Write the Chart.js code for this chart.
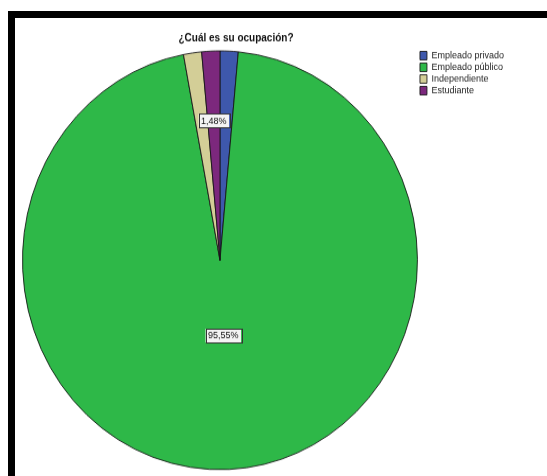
<!DOCTYPE html>
<html>
<head>
<meta charset="utf-8">
<script src="https://cdn.jsdelivr.net/npm/chart.js@4.4.1/dist/chart.umd.min.js"></script>
<style>
  body { margin: 0; background: #fff; }
  #wrap { position: relative; width: 547px; height: 476px; overflow: hidden; }
  #myChart { position: absolute; left: 0; top: 0; }
  #frame { position: absolute; left: 8px; top: 11px; right: -10px; bottom: -10px;
           border-left: 7px solid #000; border-top: 7px solid #000; }
</style>
</head>
<body>
<div id="wrap">
  <!-- drawn at 547x449 and shown a bit taller, like the squashed original -->
  <canvas id="myChart" width="547" height="449" style="width:547px;height:476px"></canvas>
  <div id="frame"></div>
</div>
<script>
const title_text = '¿Cuál es su ocupación?';
const categories = ['Empleado privado', 'Empleado público', 'Independiente', 'Estudiante'];
const percentages = [1.48, 95.55, 1.48, 1.48];
const slice_colors = ['#3e58ac', '#2eb848', '#d3ce97', '#7c287d'];

// SPSS style value boxes, only some slices get one
const valueBoxes = {
    id: 'valueBoxes',
    afterDatasetsDraw(chart, args, opts) {
        const ctx = chart.ctx;
        const arcs = chart.getDatasetMeta(0).data;
        ctx.save();
        ctx.font = '9px Arial, "Liberation Sans", sans-serif';
        ctx.textAlign = 'center';
        ctx.textBaseline = 'middle';
        opts.items.forEach(function (item) {
            const arc = arcs[item.index];
            const p = arc.getProps(['x', 'y', 'startAngle', 'endAngle', 'outerRadius'], true);
            const mid = (p.startAngle + p.endAngle) / 2;
            const cx = p.x + Math.cos(mid) * p.outerRadius * item.r;
            const cy = p.y + Math.sin(mid) * p.outerRadius * item.r;
            const txt = percentages[item.index].toFixed(2).replace('.', ',') + '%';
            const w = ctx.measureText(txt).width + 5;
            const h = 13;
            ctx.fillStyle = '#f4f4f4';
            ctx.strokeStyle = '#333';
            ctx.lineWidth = 1;
            ctx.fillRect(cx - w / 2, cy - h / 2, w, h);
            ctx.strokeRect(Math.round(cx - w / 2) + 0.5, Math.round(cy - h / 2) + 0.5, Math.round(w), h);
            ctx.fillStyle = '#111';
            ctx.fillText(txt, cx, cy + 0.5);
        });
        ctx.restore();
    }
};

// move the title so it sits where SPSS put it
const titleSpot = {
    id: 'titleSpot',
    afterLayout(chart, args, opts) {
        chart.titleBlock.left = opts.left;
        chart.titleBlock.right = opts.right;
    }
};

const config = {
    type: 'pie',
    data: {
        labels: categories,
        datasets: [{
            data: percentages,
            backgroundColor: slice_colors,
            borderColor: 'rgba(20,20,20,0.85)',
            borderWidth: 1
        }]
    },
    options: {
        responsive: false,
        animation: false,
        layout: { padding: { left: 22, right: 33, top: 20, bottom: 4 } },
        plugins: {
            title: {
                display: true,
                text: title_text,
                color: '#111',
                font: { family: 'Arial, "Liberation Sans", sans-serif', size: 10, weight: 'bold' },
                padding: { top: 10, bottom: 4 }
            },
            legend: {
                position: 'right',
                align: 'start',
                fullSize: false,
                labels: {
                    boxWidth: 7,
                    boxHeight: 8,
                    padding: 2,
                    color: '#222',
                    font: { family: 'Arial, "Liberation Sans", sans-serif', size: 9 }
                }
            },
            tooltip: { enabled: false },
            valueBoxes: { items: [{ index: 1, r: 0.36 }, { index: 3, r: 0.667 }] },
            titleSpot: { left: 22, right: 450 }
        }
    },
    plugins: [valueBoxes, titleSpot]
};

const myChart = new Chart(
    document.getElementById('myChart').getContext('2d'),
    config
);
</script>
</body>
</html>
